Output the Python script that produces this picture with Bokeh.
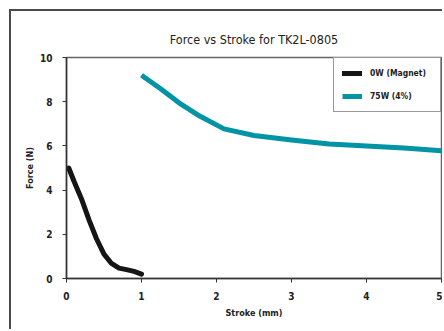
from bokeh.plotting import figure
from bokeh.models import Range1d, FixedTicker, Legend, LegendItem
from bokeh.embed import file_html
from bokeh.resources import INLINE

# Data
magnet_x = [0.03, 0.1, 0.2, 0.3, 0.4, 0.5, 0.6, 0.7, 0.8, 0.9, 1.0]
magnet_y = [5.0, 4.4, 3.6, 2.65, 1.8, 1.1, 0.68, 0.47, 0.4, 0.32, 0.2]
w75_x = [1.0, 1.25, 1.5, 1.75, 2.1, 2.5, 3.0, 3.5, 4.0, 4.5, 5.0]
w75_y = [9.2, 8.6, 7.95, 7.4, 6.77, 6.47, 6.27, 6.09, 6.0, 5.9, 5.78]
x_ticks = [0, 1, 2, 3, 4, 5]
y_ticks = [0, 2, 4, 6, 8, 10]
series_labels = ["0W (Magnet)", "75W (4%)"]

FONT = "DejaVu Sans Condensed"

p = figure(width=433, height=320, output_backend="svg", toolbar_location=None,
           x_range=Range1d(0, 5), y_range=Range1d(0, 10),
           min_border_left=55, min_border_top=46, min_border_right=3, min_border_bottom=53,
           title="Force vs Stroke for TK2L-0805")
p.styles = {"border-left": "2px solid #4a4a4a", "border-top": "2px solid #4a4a4a",
            "margin-left": "9px", "margin-top": "9px"}

p.title.align = "center"
p.title.text_font = FONT
p.title.text_font_size = "12.5px"
p.title.text_font_style = "normal"
p.title.text_color = "#222"
p.title.standoff = 21

p.grid.visible = False
p.outline_line_color = "#666"
p.outline_line_width = 1.5

for ax in (p.xaxis[0], p.yaxis[0]):
    ax.major_label_text_font = FONT
    ax.major_label_text_font_size = "10px"
    ax.major_label_text_font_style = "bold"
    ax.major_label_text_color = "#222"
    ax.axis_label_text_font = FONT
    ax.axis_label_text_font_size = "9px"
    ax.axis_label_text_font_style = "bold"
    ax.axis_label_text_color = "#222"
    ax.axis_line_color = "#333"
    ax.axis_line_width = 1.5
    ax.major_tick_line_color = "#333"
    ax.major_tick_in = 0
    ax.minor_tick_line_color = None

p.xaxis[0].ticker = FixedTicker(ticks=x_ticks)
p.yaxis[0].ticker = FixedTicker(ticks=y_ticks)
p.xaxis[0].major_tick_out = 4
p.yaxis[0].major_tick_out = 4
p.xaxis[0].major_label_standoff = 9
p.yaxis[0].major_label_standoff = 10
p.xaxis[0].axis_label = "Stroke (mm)"
p.yaxis[0].axis_label = "Force (N)"
p.xaxis[0].axis_label_standoff = 5
p.yaxis[0].axis_label_standoff = 2

r1 = p.line(magnet_x, magnet_y, line_color="#151515", line_width=5,
            line_join="round", line_cap="round")
r2 = p.line(w75_x, w75_y, line_color="#0094a4", line_width=5,
            line_join="round", line_cap="butt")

legend = Legend(items=[LegendItem(label=series_labels[0], renderers=[r1]),
                       LegendItem(label=series_labels[1], renderers=[r2])],
                location="top_right", margin=0, padding=8, spacing=9,
                border_line_color="#333", border_line_width=1,
                glyph_width=20, glyph_height=14, label_height=14,
                label_width=62, label_standoff=8,
                label_text_font=FONT, label_text_font_size="8.5px",
                label_text_font_style="bold", label_text_color="#222")
legend.label_text_baseline = "middle"
p.add_layout(legend)

open("out.html", "w").write(file_html(p, INLINE))
